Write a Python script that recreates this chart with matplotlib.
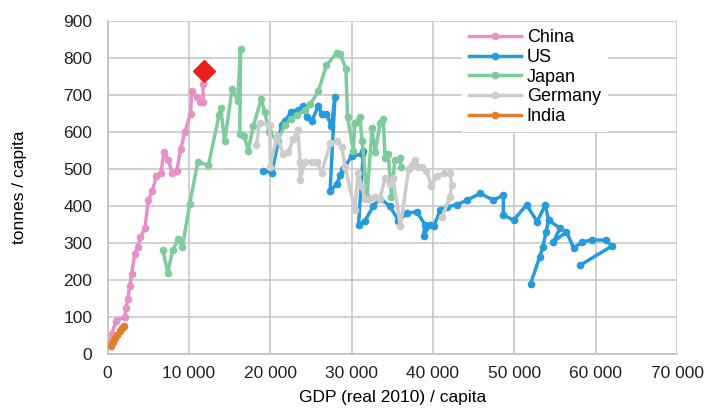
import numpy as np
import matplotlib
matplotlib.use("Agg")
import matplotlib.pyplot as plt
from matplotlib.ticker import FuncFormatter, MultipleLocator

plt.rcParams['font.family'] = ['Liberation Sans', 'DejaVu Sans']
plt.rcParams['font.size'] = 12

# GDP (real 2010) / capita  vs  tonnes / capita
china_x = [300, 500, 1100, 2100, 2300, 2500, 2750, 2950, 3350, 3700, 4050, 4600, 5000, 5500,
           6000, 6550, 6950, 7450, 7950, 8500, 9000, 9500, 10200, 10350, 10950, 11350, 11750, 11750]
china_y = [30, 55, 90, 100, 125, 150, 185, 215, 270, 290, 315, 340, 415, 440,
           480, 490, 545, 525, 490, 495, 555, 600, 650, 710, 695, 680, 680, 730]

us_x = [19100, 20200, 21400, 21800, 22600, 23400, 24000, 24500, 25100, 25900, 26300, 26900, 27500,
        27950, 27350, 28200, 28600, 29000, 30000, 31250, 31450, 30850, 31650, 32650, 33500, 34700,
        35750, 36800, 38000, 39000, 38850, 39650, 40100, 40900, 41700, 42900, 44200, 45800, 47400,
        48650, 48650, 49900, 51500, 52800, 53800, 54200, 55600, 54800, 56400, 57300, 58300, 59500,
        61200, 62000, 58100, np.nan, 52000, 53100, 53500, 53900, 54200]
us_y = [495, 490, 620, 630, 655, 660, 670, 640, 630, 670, 650, 650, 615,
        695, 440, 460, 485, 500, 535, 540, 550, 350, 360, 400, 420, 400,
        360, 380, 385, 350, 320, 350, 345, 390, 398, 403, 416, 434, 416,
        429, 376, 362, 403, 358, 403, 362, 340, 303, 330, 286, 303, 308,
        308, 292, 240, np.nan, 190, 262, 290, 330, 362]

japan_x = [6800, 7400, 8000, 8700, 9200, 10100, 11100, 12400, 13700, 13900, 14400, 15300, 16000,
           16350, 16250, 16800, 17300, 17900, 18900, 19300, 19900, 20900, 21800, 22600, 23300,
           24300, 24900, 25900, 26900, 28200, 28600, 29300, 29500, 30200, 30400, 31000, 31300,
           31900, 32500, 32900, 33500, 33900, 34100, 34500, 34900, 35300, 35900, 36100]
japan_y = [280, 220, 280, 310, 290, 405, 520, 510, 645, 665, 575, 715, 685,
           825, 595, 590, 550, 615, 690, 655, 600, 575, 620, 635, 645,
           660, 675, 710, 780, 815, 812, 770, 640, 550, 625, 640, 575,
           425, 610, 545, 625, 635, 530, 540, 425, 525, 530, 505]

germany_x = [18300, 18700, 19950, 20000, 20800, 21600, 22200, 22800, 23400, 23650, 23650, 24300,
             25100, 25700, 26300, 27400, 28200, 28800, 29200, 30400, 30800, 31200, 31650, 32100,
             32900, 33500, 34100, 34700, 35100, 36000, 37000, 37400, 37800, 38200, 38600, 39200,
             39800, 40450, 41300, 42100, 42300, 42100, 41100]
germany_y = [565, 625, 620, 505, 590, 540, 545, 580, 605, 520, 470, 520,
             520, 520, 490, 570, 575, 560, 505, 390, 490, 455, 420, 420,
             425, 420, 475, 460, 475, 345, 500, 510, 525, 505, 505, 495,
             455, 480, 488, 488, 456, 425, 370]

india_x = [450, 700, 950, 1200, 1500, 1800, 2000]
india_y = [22, 32, 42, 52, 62, 70, 76]

target_x = [11850]
target_y = [766]

series = [
    ("China", china_x, china_y, "#e591c8"),
    ("US", us_x, us_y, "#279bd9"),
    ("Japan", japan_x, japan_y, "#7fcb9b"),
    ("Germany", germany_x, germany_y, "#cccccc"),
    ("India", india_x, india_y, "#e27d2a"),
]

fig = plt.figure(figsize=(7.12, 4.09), dpi=100)
ax = fig.add_axes([0.151, 0.1345, 0.80, 0.814])

for name, xs, ys, col in series:
    ax.plot(xs, ys, '-o', color=col, lw=2.5, ms=4.5, label=name, zorder=3)

ax.plot(target_x, target_y, 'D', color="#e8231f", ms=11, zorder=4)

ax.set_xlim(0, 70000)
ax.set_ylim(0, 900)
ax.xaxis.set_major_locator(MultipleLocator(10000))
ax.yaxis.set_major_locator(MultipleLocator(100))
ax.xaxis.set_major_formatter(FuncFormatter(lambda v, p: f"{int(v):,}".replace(",", " ")))
ax.grid(True, color="#c8c8c8", lw=1.2, zorder=0)
ax.set_axisbelow(True)
for s in ["top", "right"]:
    ax.spines[s].set_visible(False)
for s in ["left", "bottom"]:
    ax.spines[s].set_color("#c0c0c0")
    ax.spines[s].set_linewidth(1.2)
ax.tick_params(axis='both', length=0, labelsize=12.5, colors="#222222")
ax.tick_params(axis='x', pad=9)
ax.tick_params(axis='y', pad=11)

ax.set_xlabel("GDP (real 2010) / capita", fontsize=12.5, labelpad=6)
ax.set_ylabel("tonnes / capita", fontsize=12.5, labelpad=26)

leg = ax.legend(loc="upper left", bbox_to_anchor=(0.622, 0.997), borderaxespad=0,
                frameon=True, fancybox=False, framealpha=1, edgecolor="none",
                handlelength=2.9, handletextpad=0.3, labelspacing=0.15, borderpad=0.4,
                fontsize=13)

fig.savefig("out.png", dpi=100)
